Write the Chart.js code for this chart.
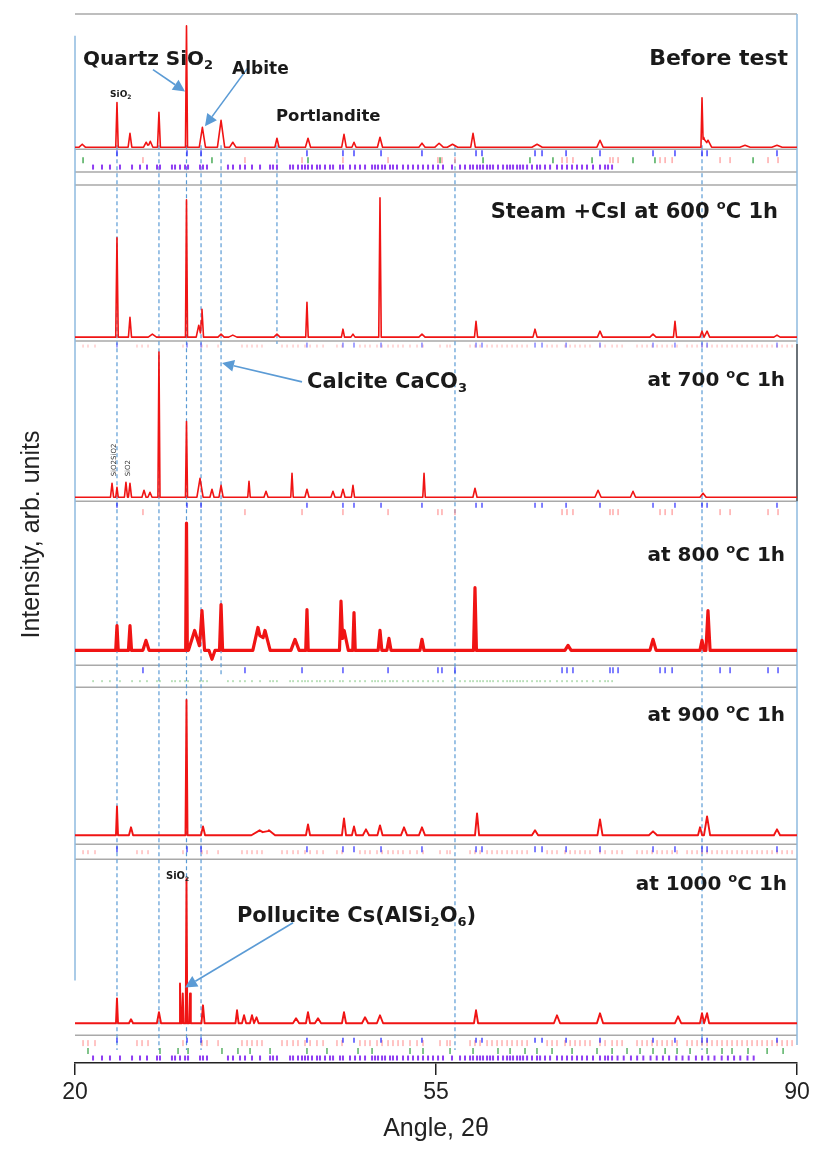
<!DOCTYPE html>
<html>
<head>
<meta charset="utf-8">
<title>XRD patterns</title>
<script src="https://cdn.jsdelivr.net/npm/chart.js@4.4.1/dist/chart.umd.min.js"></script>
<style>
  html, body { margin: 0; padding: 0; background: #ffffff; }
  #wrap { width: 818px; height: 1154px; }
</style>
</head>
<body>
<div id="wrap"><canvas id="xrdChart" width="818" height="1154"></canvas></div>
<script>
// ====================================
// DATA
// ====================================
const angleMin = 20;
const angleMax = 90;
const angleTicks = [20, 55, 90];

// peaks: [2θ, intensity, half base width]
const peaksBefore = [
  [20.7, 3, 0.3], [24.07, 45, 0.12], [25.33, 14, 0.18], [26.9, 5, 0.25], [27.3, 6, 0.25],
  [28.14, 35, 0.14], [30.81, 122, 0.1], [32.35, 20, 0.3], [34.16, 27, 0.35], [35.3, 5, 0.3],
  [39.58, 9, 0.2], [42.59, 9, 0.25], [46.08, 13, 0.22], [47.05, 5, 0.2], [49.57, 10, 0.25],
  [53.64, 4, 0.3], [55.3, 4, 0.4], [56.6, 3, 0.5], [58.59, 14, 0.22], [64.8, 3, 0.5],
  [70.9, 7, 0.3], [80.79, 45, 0.1], [80.95, 10, 0.3], [81.37, 7, 0.35], [84.96, 2, 0.5], [88.06, 2, 0.5]
];
const peaks600 = [
  [24.07, 100, 0.12], [25.33, 20, 0.15], [27.5, 3, 0.4], [30.81, 138, 0.1], [32.0, 12, 0.25],
  [32.31, 28, 0.15], [34.16, 3, 0.3], [35.3, 2, 0.4], [39.58, 3, 0.3], [42.49, 35, 0.12],
  [45.98, 8, 0.15], [46.95, 3, 0.2], [49.57, 140, 0.12], [53.64, 3, 0.3], [58.88, 16, 0.15],
  [64.6, 8, 0.2], [70.9, 6, 0.25], [76.04, 3, 0.3], [78.17, 16, 0.15], [80.79, 6, 0.2],
  [81.28, 6, 0.25], [88.06, 2, 0.3]
];
const peaks700 = [
  [23.59, 14, 0.15], [24.07, 10, 0.12], [24.94, 15, 0.15], [25.33, 14, 0.15], [26.69, 7, 0.2],
  [27.27, 5, 0.2], [28.14, 146, 0.1], [30.81, 76, 0.1], [32.12, 19, 0.3], [33.28, 8, 0.2],
  [34.16, 12, 0.2], [36.87, 16, 0.12], [38.52, 6, 0.2], [41.04, 24, 0.12], [42.49, 8, 0.2],
  [45.01, 6, 0.2], [45.98, 8, 0.2], [46.95, 12, 0.15], [53.84, 24, 0.12], [58.78, 9, 0.2],
  [70.71, 7, 0.3], [74.1, 6, 0.25], [80.89, 4, 0.3]
];
const peaks800 = [
  [24.07, 25, 0.12], [25.33, 25, 0.15], [26.88, 10, 0.3], [30.81, 128, 0.08], [31.6, 20, 0.6],
  [32.31, 40, 0.25], [33.28, -9, 0.3], [34.16, 46, 0.15], [37.74, 23, 0.5], [38.42, 20, 0.5],
  [41.33, 11, 0.4], [42.49, 41, 0.12], [45.79, 45, 0.15], [46.1, 20, 0.4], [47.05, 38, 0.12],
  [49.57, 20, 0.18], [50.44, 12, 0.2], [53.64, 11, 0.2], [58.78, 63, 0.14], [67.8, 5, 0.3],
  [76.04, 11, 0.3], [80.79, 10, 0.2], [81.37, 40, 0.2]
];
const peaks900 = [
  [24.07, 29, 0.1], [25.43, 8, 0.2], [30.81, 136, 0.1], [32.41, 9, 0.2], [37.9, 5, 0.8],
  [38.8, 5, 0.6], [42.59, 11, 0.2], [46.08, 17, 0.2], [47.05, 9, 0.2], [48.21, 6, 0.3],
  [49.57, 10, 0.25], [51.9, 8, 0.3], [53.64, 8, 0.3], [58.98, 22, 0.2], [64.6, 5, 0.3],
  [70.9, 16, 0.25], [76.04, 4, 0.4], [80.6, 8, 0.2], [81.28, 19, 0.3], [88.06, 6, 0.3]
];
const peaks1000 = [
  [24.07, 25, 0.1], [25.43, 4, 0.2], [28.14, 11, 0.2], [30.18, 40, 0.08], [30.45, 30, 0.08],
  [30.81, 145, 0.08], [31.15, 30, 0.08], [32.41, 18, 0.15], [35.71, 13, 0.15], [36.39, 8, 0.2],
  [37.16, 8, 0.2], [37.6, 6, 0.2], [41.43, 5, 0.3], [42.59, 11, 0.2], [43.56, 5, 0.3],
  [46.08, 11, 0.2], [48.12, 6, 0.3], [49.57, 8, 0.3], [58.88, 13, 0.2], [66.73, 8, 0.3],
  [70.9, 10, 0.3], [78.47, 7, 0.3], [80.79, 10, 0.2], [81.28, 10, 0.2]
];

// dashed guide lines (2θ)
const guideAngles = [24.07, 28.14, 30.81, 32.22, 34.16, 39.58, 56.84, 80.79];

// reflection markers (2θ)
const reflQuartz = [24.07, 30.86, 32.22, 42.49, 45.98, 47.05, 49.67, 53.64, 58.88, 59.46, 64.6,
  65.28, 67.61, 70.9, 76.04, 78.17, 80.79, 81.28, 88.06];
const reflPink = [26.59, 36.48, 42.01, 45.98, 50.35, 55.19, 55.58, 56.84, 67.22, 67.7, 68.28,
  71.87, 72.16, 72.65, 76.72, 77.21, 77.89, 82.54, 83.51, 87.19, 88.16];
const reflGreen = [20.78, 33.28, 42.59, 55.39, 59.56, 64.11, 66.34, 70.13, 74.1, 76.23, 85.74];
const reflViolet = [21.75, 22.62, 23.39, 24.36, 25.53, 26.3, 26.98, 27.95, 28.24, 29.4, 29.7,
  30.18, 30.67, 30.96, 32.12, 32.41, 32.8, 34.83, 35.32, 36.0, 36.48, 37.16, 37.94, 38.91,
  39.2, 39.58, 40.85, 41.14, 41.62, 42.01, 42.3, 42.59, 42.98, 43.46, 43.75, 44.24, 44.72,
  45.02, 45.69, 45.98, 46.66, 47.15, 47.63, 48.12, 48.8, 49.09, 49.38, 49.77, 50.06, 50.54,
  50.83, 51.22, 51.8, 52.29, 52.77, 53.26, 53.74, 54.23, 54.71, 55.2, 55.68, 56.55, 57.33,
  57.81, 58.3, 58.59, 58.98, 59.27, 59.56, 59.95, 60.24, 60.53, 61.01, 61.5, 61.89, 62.18,
  62.47, 62.86, 63.15, 63.44, 63.83, 64.31, 64.79, 65.09, 65.57, 66.06, 66.73, 67.22, 67.7,
  68.19, 68.67, 69.16, 69.64, 70.22, 70.9, 71.39, 71.68, 72.07];
const reflVioletExtra = [72.6, 73.2, 73.9, 74.5, 75.1, 75.8, 76.4, 77.0, 77.6, 78.3, 78.9,
  79.5, 80.2, 80.8, 81.4, 82.0, 82.7, 83.3, 83.9, 84.5, 85.2, 85.8];
const reflPinkDense = [20.78, 21.26, 21.94, 26.01, 26.5, 27.08, 30.47, 32.31, 32.8, 33.87,
  36.19, 36.68, 37.16, 37.65, 38.13, 40.07, 40.56, 41.14, 41.62, 42.3, 42.79, 43.46, 44.05,
  45.4, 45.89, 47.63, 48.12, 48.6, 49.28, 49.77, 50.35, 50.83, 51.32, 51.8, 52.48, 53.16,
  53.74, 55.39, 56.07, 56.36, 58.3, 58.78, 59.27, 59.95, 60.43, 60.92, 61.4, 61.89, 62.37,
  62.86, 63.34, 63.83, 65.77, 66.25, 66.73, 67.51, 68.0, 68.48, 68.96, 69.45, 69.93, 70.9,
  71.39, 72.07, 72.55, 73.04, 74.49, 74.98, 75.46, 75.95, 76.43, 76.92, 77.4, 77.89, 78.37,
  79.34, 79.82, 80.31, 80.79, 81.28, 81.76, 82.25, 82.73, 83.22, 83.7, 84.19, 84.67, 85.16,
  85.64, 86.13, 86.61, 87.1, 87.58, 88.07, 88.55, 89.04, 89.52];
const reflGreenDense = [21.26, 28.24, 29.99, 30.96, 34.25, 35.8, 36.97, 38.91, 42.49, 44.43,
  47.44, 48.8, 52.48, 53.74, 56.36, 58.59, 61.01, 62.18, 63.63, 64.79, 66.25, 68.19, 70.61,
  72.07, 73.52, 74.78, 76.04, 77.21, 78.37, 79.63, 81.28, 82.73, 83.7, 85.25, 87.1, 88.65];

// ====================================
// LAYOUT (pixel rows inside the plot area)
// ====================================
const PLOT_BOTTOM = 1063;
const yAt = (row) => PLOT_BOTTOM - row;

const traces = [
  { peaks: peaksBefore, base: 142, width: 1.6 },
  { peaks: peaks600, base: 333, width: 1.6 },
  { peaks: peaks700, base: 494, width: 1.6 },
  { peaks: peaks800, base: 648, width: 3.2 },
  { peaks: peaks900, base: 834, width: 1.9 },
  { peaks: peaks1000, base: 1023, width: 1.9 },
];

const markerRows = [
  { refl: reflQuartz, row: 148, len: 6, color: "#2b2bff", w: 1.3 },
  { refl: reflPink, row: 155, len: 6, color: "#ff8080", w: 1 },
  { refl: reflGreen, row: 155, len: 6, color: "#2e9e3e", w: 1.3 },
  { refl: reflViolet, row: 162, len: 5, color: "#8f3df2", w: 2 },
  { refl: reflQuartz, row: 341, len: 5, color: "#4a4aff", w: 1 },
  { refl: reflPinkDense, row: 342, len: 3, color: "#ffb3b3", w: 1 },
  { refl: reflQuartz, row: 502, len: 5, color: "#2b2bff", w: 1.2 },
  { refl: reflPink, row: 509, len: 6, color: "#ff8080", w: 1 },
  { refl: reflPink, row: 668, len: 6, color: "#2b2bff", w: 1.2 },
  { refl: reflViolet, row: 679, len: 2, color: "#7cc47c", w: 1 },
  { refl: reflQuartz, row: 848, len: 6, color: "#2b2bff", w: 1.2 },
  { refl: reflPinkDense, row: 851, len: 4, color: "#ff9a9a", w: 1 },
  { refl: reflQuartz, row: 1040, len: 5, color: "#2b2bff", w: 1.3 },
  { refl: reflPinkDense, row: 1043, len: 6, color: "#ff8a8a", w: 1 },
  { refl: reflGreenDense, row: 1051, len: 6, color: "#2e9e3e", w: 1.2 },
  { refl: reflViolet.concat(reflVioletExtra), row: 1058, len: 5, color: "#8f3df2", w: 2 },
];

const guideTop = 140;
const guideEnds = [1050, 1050, 1050, 1050, 675, 340, 1050, 1050];

const frameRows = [8, 144, 167, 180, 337, 498, 663, 685, 843, 858, 1035];

// ====================================
// BUILD PROFILES
// ====================================
// each peak is a narrow triangle; overlapping peaks add up
function buildProfile(peaks, base) {
  const xs = new Set([angleMin, angleMax]);
  peaks.forEach(([c, h, w]) => {
    xs.add(c - w);
    xs.add(c);
    xs.add(c + w);
  });
  return [...xs]
    .filter((x) => x >= angleMin && x <= angleMax)
    .sort((a, b) => a - b)
    .map((x) => {
      let y = 0;
      peaks.forEach(([c, h, w]) => {
        const d = Math.abs(x - c);
        if (d < w) y += h * (1 - d / w);
      });
      return { x: x, y: yAt(base) + y };
    });
}

const datasets = [];

traces.forEach(function (t) {
  datasets.push({
    type: "line",
    data: buildProfile(t.peaks, t.base),
    borderColor: "#f01414",
    borderWidth: t.width,
    borderJoinStyle: "round",
    pointRadius: 0,
    tension: 0,
    order: 0,
  });
});

markerRows.forEach(function (m) {
  datasets.push({
    type: "scatter",
    data: m.refl.map((a) => ({ x: a, y: yAt(m.row) })),
    pointStyle: "line",
    rotation: 90,
    radius: m.len / 2,
    borderColor: m.color,
    borderWidth: m.w,
    order: 1,
  });
});

guideAngles.forEach(function (a, i) {
  datasets.push({
    type: "line",
    data: [{ x: a, y: yAt(guideTop) }, { x: a, y: yAt(guideEnds[i]) }],
    borderColor: "#5b9bd5",
    borderWidth: 1.2,
    borderDash: [4, 3],
    pointRadius: 0,
    order: 2,
  });
});

// ====================================
// LABELS & ARROWS
// ====================================
const labels = [
  { parts: [["Quartz SiO"], ["2", "sub"]], at: 20.78, row: 59, size: 20, align: "left" },
  { parts: [["Albite"]], at: 35.23, row: 68, size: 17, align: "left" },
  { parts: [["Portlandite"]], at: 39.49, row: 116, size: 16.5, align: "left" },
  { parts: [["Before test"]], at: 89.13, row: 59, size: 22, align: "right" },
  { parts: [["Steam +CsI at 600 "], ["o", "sup"], ["C 1h"]], at: 88.16, row: 213, size: 21, align: "right" },
  { parts: [["Calcite CaCO"], ["3", "sub"]], at: 42.5, row: 384, size: 21, align: "left" },
  { parts: [["at 700 "], ["o", "sup"], ["C 1h"]], at: 88.84, row: 382, size: 20, align: "right" },
  { parts: [["at 800 "], ["o", "sup"], ["C 1h"]], at: 88.84, row: 558, size: 20, align: "right" },
  { parts: [["at 900 "], ["o", "sup"], ["C 1h"]], at: 88.84, row: 719, size: 20, align: "right" },
  { parts: [["at 1000 "], ["o", "sup"], ["C 1h"]], at: 89.04, row: 889, size: 20, align: "right" },
  { parts: [["Pollucite Cs(AlSi"], ["2", "sub"], ["O"], ["6", "sub"], [")"]], at: 35.7, row: 921, size: 21, align: "left" },
  { parts: [["SiO"], ["2", "sub"]], at: 23.4, row: 92, size: 9, align: "left" },
  { parts: [["SiO"], ["2", "sub"]], at: 28.82, row: 878, size: 10, align: "left" },
];

const arrows = [
  { from: [27.56, 64], to: [30.67, 86] },
  { from: [36.77, 62], to: [32.6, 121] },
  { from: [42.01, 378], to: [34.25, 359] },
  { from: [41.14, 922], to: [30.67, 987] },
];

function drawRich(ctx, parts, x, y, size, align) {
  const fontFor = (k) =>
    "bold " + (k ? Math.round(size * 0.64) : size) + 'px "DejaVu Sans"';
  let total = 0;
  parts.forEach(([t, k]) => {
    ctx.font = fontFor(k);
    total += ctx.measureText(t).width;
  });
  let cx = align === "right" ? x - total : x;
  parts.forEach(([t, k]) => {
    ctx.font = fontFor(k);
    const dy = k === "sub" ? size * 0.2 : k === "sup" ? -size * 0.4 : 0;
    ctx.fillText(t, cx, y + dy);
    cx += ctx.measureText(t).width;
  });
}

const decorPlugin = {
  id: "decor",
  beforeDatasetsDraw(chart) {
    const { ctx, chartArea, scales } = chart;
    ctx.save();
    // panel frame lines
    ctx.strokeStyle = "#a9a9a9";
    ctx.lineWidth = 1.5;
    frameRows.forEach(function (r) {
      const py = scales.y.getPixelForValue(yAt(r));
      ctx.beginPath();
      ctx.moveTo(chartArea.left, py);
      ctx.lineTo(chartArea.right, py);
      ctx.stroke();
    });
    // side borders
    ctx.strokeStyle = "#8fbbe0";
    ctx.lineWidth = 1.5;
    ctx.beginPath();
    ctx.moveTo(chartArea.left, scales.y.getPixelForValue(yAt(30)));
    ctx.lineTo(chartArea.left, scales.y.getPixelForValue(yAt(980)));
    ctx.moveTo(chartArea.right, scales.y.getPixelForValue(yAt(8)));
    ctx.lineTo(chartArea.right, scales.y.getPixelForValue(yAt(1045)));
    ctx.stroke();
    ctx.strokeStyle = "#555555";
    ctx.beginPath();
    ctx.moveTo(chartArea.right, scales.y.getPixelForValue(yAt(340)));
    ctx.lineTo(chartArea.right, scales.y.getPixelForValue(yAt(498)));
    ctx.stroke();
    ctx.restore();
  },
  afterDatasetsDraw(chart) {
    const { ctx, scales } = chart;
    const px = (a) => scales.x.getPixelForValue(a);
    const py = (r) => scales.y.getPixelForValue(yAt(r));
    ctx.save();

    // arrows
    ctx.strokeStyle = "#5b9bd5";
    ctx.fillStyle = "#5b9bd5";
    ctx.lineWidth = 1.6;
    arrows.forEach(function (ar) {
      const x1 = px(ar.from[0]), y1 = py(ar.from[1]);
      const x2 = px(ar.to[0]), y2 = py(ar.to[1]);
      const ang = Math.atan2(y2 - y1, x2 - x1);
      const head = 12;
      ctx.beginPath();
      ctx.moveTo(x1, y1);
      ctx.lineTo(x2 - head * Math.cos(ang), y2 - head * Math.sin(ang));
      ctx.stroke();
      ctx.beginPath();
      ctx.moveTo(x2, y2);
      ctx.lineTo(x2 - head * Math.cos(ang) + 6 * Math.sin(ang), y2 - head * Math.sin(ang) - 6 * Math.cos(ang));
      ctx.lineTo(x2 - head * Math.cos(ang) - 6 * Math.sin(ang), y2 - head * Math.sin(ang) + 6 * Math.cos(ang));
      ctx.closePath();
      ctx.fill();
    });

    // text labels
    ctx.fillStyle = "#1a1a1a";
    ctx.textBaseline = "alphabetic";
    ctx.textAlign = "left";
    labels.forEach(function (l) {
      drawRich(ctx, l.parts, px(l.at), py(l.row), l.size, l.align);
    });

    // small rotated peak tags
    ctx.font = '7px "DejaVu Sans"';
    ctx.fillStyle = "#333333";
    [["SiO2SiO2", 23.78], ["SiO2", 25.14]].forEach(function (tag) {
      ctx.save();
      ctx.translate(px(tag[1]), py(473));
      ctx.rotate(-Math.PI / 2);
      ctx.textBaseline = "middle";
      ctx.fillText(tag[0], 0, 0);
      ctx.restore();
    });

    // y axis title
    ctx.save();
    ctx.translate(32, (chart.chartArea.top + chart.chartArea.bottom) / 2);
    ctx.rotate(-Math.PI / 2);
    ctx.textAlign = "center";
    ctx.textBaseline = "middle";
    ctx.fillStyle = "#222222";
    ctx.font = '25px "Liberation Sans"';
    ctx.fillText("Intensity, arb. units", 0, 0);
    ctx.restore();

    ctx.restore();
  },
};

// ====================================
// CHART
// ====================================
new Chart(document.getElementById("xrdChart").getContext("2d"), {
  data: { datasets: datasets },
  options: {
    responsive: false,
    animation: false,
    events: [],
    layout: { padding: { left: 75, right: 21, top: 0, bottom: 0 } },
    plugins: { legend: { display: false }, tooltip: { enabled: false } },
    scales: {
      x: {
        type: "linear",
        min: angleMin,
        max: angleMax,
        afterBuildTicks: function (scale) {
          scale.ticks = angleTicks.map((v) => ({ value: v }));
        },
        afterFit: function (scale) {
          scale.height = 1154 - PLOT_BOTTOM;
        },
        grid: { drawOnChartArea: false, drawTicks: true, tickLength: 12, color: "#222222", lineWidth: 1.5 },
        border: { display: true, color: "#222222", width: 1.5 },
        ticks: {
          color: "#222222",
          font: { family: "Liberation Sans", size: 23 },
          padding: 4,
          maxRotation: 0,
          autoSkip: false,
        },
        title: {
          display: true,
          text: "Angle, 2θ",
          color: "#222222",
          font: { family: "Liberation Sans", size: 25 },
          padding: { top: 0, bottom: 10 },
        },
      },
      y: { type: "linear", display: false, min: 0, max: PLOT_BOTTOM },
    },
  },
  plugins: [decorPlugin],
});
</script>
</body>
</html>
